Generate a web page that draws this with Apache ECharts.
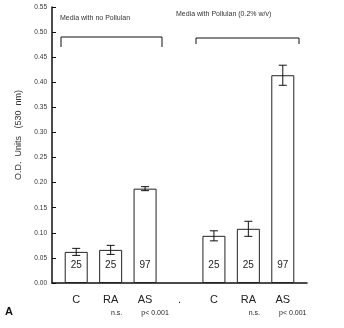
<!DOCTYPE html>
<html><head><meta charset="utf-8">
<script src="https://cdn.jsdelivr.net/npm/echarts@6/dist/echarts.min.js"></script>
<style>html,body{margin:0;padding:0;background:#fff}#c{width:344px;height:328px}</style>
</head><body><div id="c"></div>
<script>
const categories = ['C', 'RA', 'AS', '.', 'C', 'RA', 'AS'];
const sigLabels = ['', 'n.s.', 'p< 0.001', '', '', 'n.s.', 'p< 0.001'];
const means = [0.062, 0.066, 0.188, null, 0.094, 0.108, 0.414];
const errors = [0.007, 0.009, 0.004, null, 0.010, 0.015, 0.020];
const counts = ['25', '25', '97', '', '25', '25', '97'];
const yTicks = ['0.00','0.05','0.10','0.15','0.20','0.25','0.30','0.35','0.40','0.45','0.50','0.55'];

const font = 'Liberation Sans, DejaVu Sans, sans-serif';
const chart = echarts.init(document.getElementById('c'));
const errData = means.map((m, i) => m == null ? null : [i, m, errors[i]]).filter(d => d);

chart.setOption({
  animation: false,
  backgroundColor: '#fff',
  grid: [
    {left: 52, right: 37, top: 7, bottom: 45},
    {left: 59, right: 44, top: 7, bottom: 45}
  ],
  xAxis: [
    {gridIndex: 0, type: 'value', min: 0, max: 1, axisLine: {show: true, lineStyle: {color: '#111', width: 1.5}},
     axisTick: {show: false}, axisLabel: {show: false}, splitLine: {show: false}},
    {gridIndex: 1, type: 'category', data: categories, axisLine: {show: false}, axisTick: {show: false},
     axisLabel: {interval: 0, margin: 9, color: '#222', fontFamily: font,
       formatter: (v, i) => '{c|' + v + '}\n' + (sigLabels[i] ? '{s' + (sigLabels[i] === 'n.s.' ? 'n' : 'p') + '|' + sigLabels[i] + '}' : '{e| }'),
       rich: {
         c: {fontSize: 11, lineHeight: 15, fontFamily: font, color: '#222'},
         sn: {fontSize: 7, lineHeight: 13, fontFamily: font, color: '#222', padding: [0, 0, 0, 12]},
         sp: {fontSize: 7, lineHeight: 13, fontFamily: font, color: '#222', padding: [0, 0, 0, 20]},
         e: {fontSize: 7, lineHeight: 13}
       }}}
  ],
  yAxis: [
    {gridIndex: 0, type: 'value', min: 0, max: 0.55, interval: 0.05,
     axisLine: {show: true, lineStyle: {color: '#111', width: 1.5}},
     axisTick: {show: true, inside: true, length: 4, lineStyle: {color: '#111'}},
     axisLabel: {fontSize: 6.5, color: '#333', fontFamily: font, margin: 5,
       formatter: (v) => yTicks[Math.round(v / 0.05)]},
     splitLine: {show: false},
     name: 'O.D.  Units   (530  nm)', nameLocation: 'middle', nameGap: 29, nameRotate: 90,
     nameTextStyle: {fontSize: 9, color: '#333', fontFamily: font, padding: [0, 0, 0, 20]}},
    {gridIndex: 1, type: 'value', min: 0, max: 0.55, show: false}
  ],
  series: [
    {type: 'bar', xAxisIndex: 1, yAxisIndex: 1, data: means, barWidth: 23,
     itemStyle: {color: '#fff', borderColor: '#222', borderWidth: 1},
     label: {show: true, position: 'insideBottom', distance: 13, fontSize: 10, fontFamily: font, color: '#222',
       formatter: (p) => counts[p.dataIndex]}},
    {type: 'custom', xAxisIndex: 1, yAxisIndex: 1, data: errData, z: 5,
     renderItem: (params, api) => {
       const x = api.value(0), m = api.value(1), e = api.value(2);
       const top = api.coord([x, m + e]), bot = api.coord([x, m - e]);
       const w = 4;
       const st = {stroke: '#111', lineWidth: 1};
       return {type: 'group', children: [
         {type: 'line', shape: {x1: top[0], y1: top[1], x2: bot[0], y2: bot[1]}, style: st},
         {type: 'line', shape: {x1: top[0] - w, y1: top[1], x2: top[0] + w, y2: top[1]}, style: st},
         {type: 'line', shape: {x1: bot[0] - w, y1: bot[1], x2: bot[0] + w, y2: bot[1]}, style: st}
       ]};
     }}
  ],
  graphic: [
    {type: 'polyline', shape: {points: [[61, 47], [61, 37], [162, 37], [162, 47]]}, style: {stroke: '#111', lineWidth: 1, fill: null}},
    {type: 'polyline', shape: {points: [[196, 44], [196, 38], [299, 38], [299, 44]]}, style: {stroke: '#111', lineWidth: 1, fill: null}},
    {type: 'text', left: 60, top: 15, style: {text: 'Media with no Pollulan', fontSize: 7, fontFamily: font, fill: '#333'}},
    {type: 'text', left: 176, top: 11, style: {text: 'Media with Pollulan (0.2% w/v)', fontSize: 7, fontFamily: font, fill: '#333'}},
    {type: 'text', left: 5, top: 306, style: {text: 'A', fontSize: 11, fontWeight: 'bold', fontFamily: font, fill: '#111'}}
  ]
});
</script></body></html>
